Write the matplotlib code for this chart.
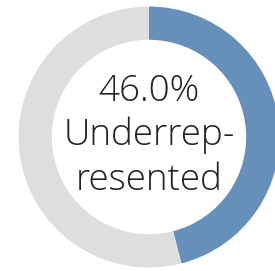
import matplotlib
matplotlib.use("Agg")
import matplotlib.pyplot as plt

# share of underrepresented vs rest
labels = ["Underrepresented", "Other"]
values = [46.0, 54.0]
colors = ["#6690BA", "#DEDEE0"]
center_lines = ["46.0%", "Underrep-", "resented"]

plt.rcParams['font.family'] = ['Open Sans', 'DejaVu Sans']

fig = plt.figure(figsize=(2.75, 2.71), dpi=100)
ax = fig.add_axes([0, 0, 1, 1])

ax.pie(values, colors=colors, startangle=90, counterclock=False,
       radius=1.0, wedgeprops=dict(width=0.255, linewidth=0))

# donut is cut off on the right side in the original
ax.set_xlim(-1.142, 0.966)
ax.set_ylim(-1.027, 1.05)
ax.set_aspect('auto')
ax.axis('off')

for txt, y in zip(center_lines, [0.345, 0.015, -0.33]):
    ax.text(0, y, txt, ha='center', va='center', fontsize=26.5,
            fontweight='light', color='#222222')

fig.savefig("out.png", dpi=100)
